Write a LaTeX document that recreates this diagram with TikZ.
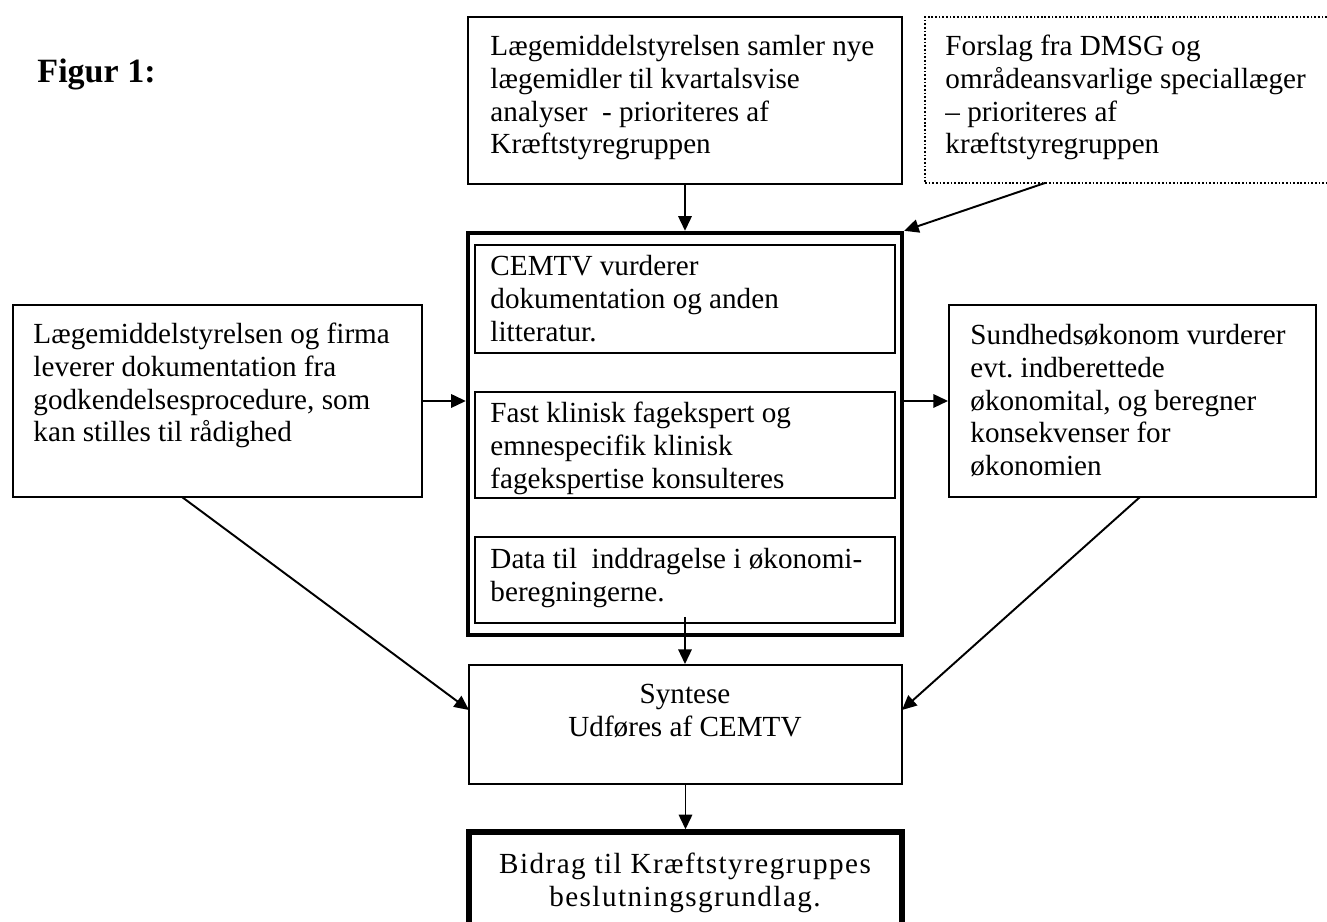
\documentclass[tikz,border=0pt]{standalone}
\usepackage{fontspec}
\setmainfont{Liberation Serif}
\usetikzlibrary{arrows.meta,fit,calc}
\frenchspacing
\begin{document}
\begin{tikzpicture}[x=0.4115pt,y=-0.4115pt,
  box/.style={draw,line width=0.8pt,inner sep=0pt},
  dotbox/.style={draw,line width=0.7pt,inner sep=0pt,dash pattern=on 0.7pt off 0.8pt},
  thickbox/.style={draw,line width=1.8pt,inner sep=0pt},
  finalbox/.style={draw,line width=2.2pt,inner sep=0pt},
  txt/.style={anchor=north west,inner sep=0pt,align=left,font=\fontsize{12}{13.5}\selectfont},
  ctxt/.style={anchor=north,inner sep=0pt,align=center,font=\fontsize{12}{13.5}\selectfont},
  arr/.style={line width=0.8pt,-{Triangle[length=6pt,width=5.5pt]}},
  ln/.style={line width=0.8pt}]
\useasboundingbox (0,0) rectangle (1327,922);

\node[anchor=base west,inner sep=0pt,font=\fontsize{14}{16}\selectfont\bfseries] (fig) at (37,83) {Figur 1:};

% boxes
\node[box,fit={(468,17) (902,184)}] (top) {};
\node[dotbox,fit={(925,17) (1340,183)}] (dms) {};
\node[thickbox,fit={(468,233) (902,635)}] (cem) {};
\node[box,fit={(475,245) (895,353)}] (in1) {};
\node[box,fit={(475,392) (895,498)}] (in2) {};
\node[box,fit={(475,537) (895,623)}] (in3) {};
\node[box,fit={(13,305) (422,497)}] (lft) {};
\node[box,fit={(949,305) (1316,497)}] (rgt) {};
\node[box,fit={(469,665) (902,784)}] (syn) {};
\node[finalbox,fit={(469,832) (902,960)}] (bid) {};

% texts
\node[txt] (ttop) at (490,32) {\strut Lægemiddelstyrelsen samler nye\\lægemidler til kvartalsvise\\analyser\ \ - prioriteres af\\Kræftstyregruppen};
\node[txt] (tdms) at (945,32) {\strut Forslag fra DMSG og\\områdeansvarlige speciallæger\\– prioriteres af\\kræftstyregruppen};
\node[txt] (tin1) at (490,252) {\strut CEMTV vurderer\\dokumentation og anden\\litteratur.};
\node[txt] (tin2) at (490,399) {\strut Fast klinisk fagekspert og\\emnespecifik klinisk\\fagekspertise konsulteres};
\node[txt] (tin3) at (490,545) {\strut Data til\ \ inddragelse i økonomi-\\beregningerne.};
\node[txt] (tlft) at (33,320) {\strut Lægemiddelstyrelsen og firma\\leverer dokumentation fra\\godkendelsesprocedure, som\\kan stilles til rådighed};
\node[txt] (trgt) at (970,321) {\strut Sundhedsøkonom vurderer\\evt. indberettede\\økonomital, og beregner\\konsekvenser for\\økonomien};
\node[ctxt] (tsyn) at (685,680) {\strut Syntese\\Udføres af CEMTV};
\node[ctxt,font=\fontsize{12}{13.5}\selectfont\addfontfeature{LetterSpace=5}] (tbid) at (685,850) {\strut Bidrag til Kræftstyregruppes\\beslutningsgrundlag.};

% connector anchor points
\coordinate (dsrc) at (1045,183);
\coordinate (c3) at (685,617);
\coordinate (ls) at (182,497);
\coordinate (lt) at (469,710);
\coordinate (rs) at (1140,497);
\coordinate (rt) at (902,710);

% connectors
\draw[arr] (top.south) -- (top.south |- cem.north);
\draw[arr] (dsrc) -- (cem.north east);
\draw[arr] (lft.east) -- (lft.east -| cem.west);
\draw[arr] (rgt.west -| cem.east) -- (rgt.west);
\draw[arr] (c3) -- (c3 |- syn.north);
\draw[arr] (syn.south) -- (bid.north);
\draw[arr] (ls) -- (lt);
\draw[arr] (rs) -- (rt);
\end{tikzpicture}
\end{document}
